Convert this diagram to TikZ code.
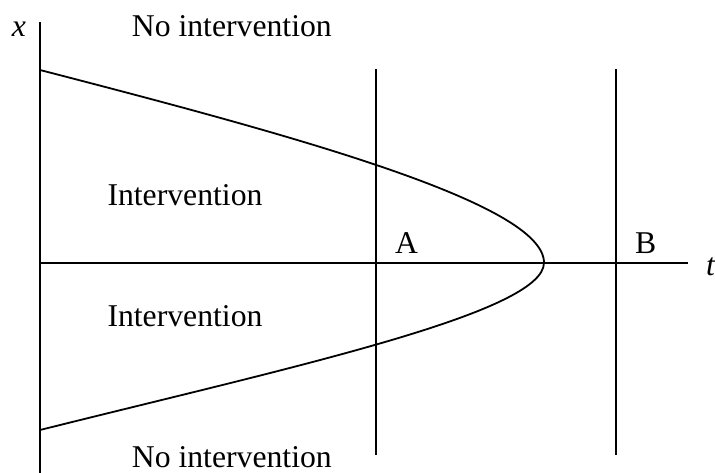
\documentclass[tikz,border=0pt]{standalone}
\usepackage{fontspec}
\setmainfont{Liberation Serif}
\begin{document}
\begin{tikzpicture}[x=1pt,y=-1pt,
  lbl/.style={font=\fontsize{31.7}{38}\selectfont, inner sep=0pt, anchor=base west},
  ln/.style={line width=2pt, line cap=butt}]
\useasboundingbox (0,0) rectangle (715,473);
% axes
\coordinate (ytop) at (40,21.7);
\coordinate (ybot) at (40,473);
\coordinate (tstart) at (40,262.7);
\coordinate (tend) at (688,262.7);
\draw[ln] (ybot) -- (ytop);
\draw[ln] (tstart) -- (tend);
% vertical lines A and B
\coordinate (atop) at (375.7,69.3);
\coordinate (abot) at (375.7,455);
\coordinate (btop) at (616,69.3);
\coordinate (bbot) at (616,455);
\draw[ln] (atop) -- (abot);
\draw[ln] (btop) -- (bbot);
% boundary curve
\coordinate (cup) at (40,70);
\coordinate (cvert) at (544,262.7);
\coordinate (clow) at (40,430);
\draw[line width=1.8pt] (cup) .. controls (290,134.7) and (544,203) .. (cvert)
  .. controls (544,313) and (290,367.5) .. (clow);
% labels
\node[lbl] (xl) at (11.7,36.7) {\textit{x}};
\node[lbl] (tl) at (706,276) {\textit{t}};
\node[lbl] (ni1) at (131.7,36.7) {No intervention};
\node[lbl] (i1) at (107.3,206) {Intervention};
\node[lbl] (i2) at (107.3,326) {Intervention};
\node[lbl] (ni2) at (131.7,467.3) {No intervention};
\node[lbl] (la) at (395,254) {A};
\node[lbl] (lb) at (635,254) {B};
\end{tikzpicture}
\end{document}
